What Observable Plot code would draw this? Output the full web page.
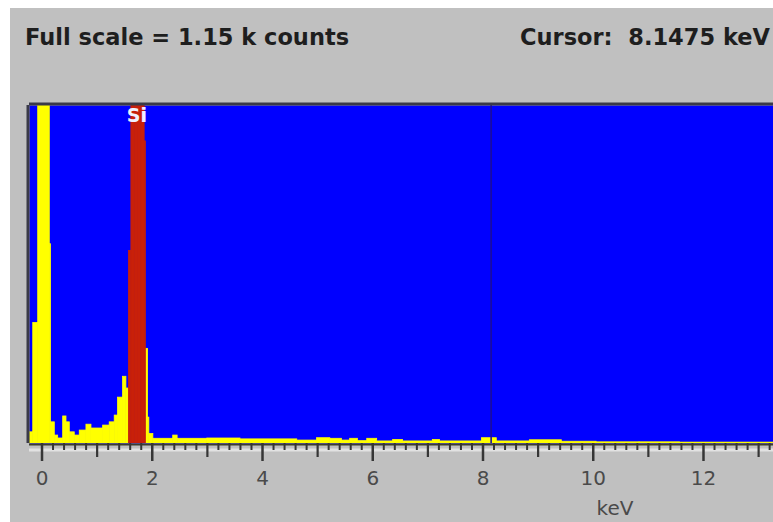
<!DOCTYPE html>
<html><head><meta charset="utf-8">
<script src="https://cdn.jsdelivr.net/npm/d3@7"></script>
<script src="https://cdn.jsdelivr.net/npm/@observablehq/plot@0.6"></script>
<style>
html,body{margin:0;padding:0;background:#fff;}
#panel{position:absolute;left:10px;top:8px;width:763px;height:514px;background:#c0c0c0;overflow:hidden;font-family:"DejaVu Sans",sans-serif;}
#header{position:relative;height:82px;}
.ttl{position:absolute;top:18px;font-weight:bold;font-size:22.5px;line-height:22.5px;color:#1e1e1e;white-space:pre;}
#chart{position:absolute;top:82px;left:0;}
#xlabel{position:absolute;top:490px;left:575px;width:60px;text-align:center;font-size:20px;line-height:20px;color:#4a4a4a;}
</style></head>
<body><div id="panel"><div id="header"><span class="ttl" id="scale" style="left:15px"></span><span class="ttl" id="cursor" style="left:510px"></span></div><div id="chart"></div><div id="xlabel"></div></div>
<script>
// ---- data ----
const fullScaleCounts = 1150;
const fullScaleText = "Full scale = 1.15 k counts";
const cursorText = "Cursor:  8.1475 keV";
const cursorKeV = [8.1475];
const axisUnit = "keV";
const xDomainKeV = [-0.227, 13.27];
const majorTickKeV = [0, 2, 4, 6, 8, 10, 12];
const midTickKeV = [1, 3, 5, 7, 9, 11, 13];
const minorTickKeV = d3.range(1, 67).filter(i => i % 5 !== 0).map(i => +(i * 0.2).toFixed(1));
// spectrum bins: edges (keV) and counts per bin
const binEdgesKeV = [-0.221, -0.159, -0.069, 0.141, 0.163, 0.232, 0.293, 0.384, 0.444, 0.504, 0.594, 0.685, 0.806, 0.897, 1.109, 1.228, 1.319, 1.380, 1.471, 1.531, 1.576, 1.621, 1.68, 1.74, 1.80, 1.862, 1.884, 1.924, 1.947, 2.02, 2.38, 2.46, 3.00, 3.60, 4.63, 4.99, 5.23, 5.44, 5.59, 5.73, 5.90, 6.08, 6.37, 6.55, 7.09, 7.22, 7.98, 8.25, 8.85, 9.43, 10.06, 10.84, 11.57, 13.27];
const binCounts = [38, 410, 3200, 678, 72, 27, 17, 92, 72, 38, 27, 44, 64, 51, 61, 72, 95, 156, 227, 187, 655, 1800, 5200, 7400, 2600, 1028, 322, 88, 32, 16, 27, 16, 17, 14, 10, 18, 16, 10, 16, 8, 16, 7, 12, 7, 12, 7, 18, 7, 11, 6, 4, 4, 3];
// element region of interest
const roiElement = ["Si"];
const roiFromKeV = [1.576];
const roiToKeV = [1.884];
const roiLineKeV = [1.72];

// ---- build tables ----
const bins = binCounts.map((c, i) => ({x1: binEdgesKeV[i], x2: binEdgesKeV[i + 1], count: c}));
const inRoi = d => roiFromKeV.some((f, k) => d.x1 >= f - 1e-9 && d.x2 <= roiToKeV[k] + 1e-9);
const roiLabels = roiElement.map((e, k) => ({name: e, keV: roiLineKeV[k]}));

document.getElementById("scale").textContent = fullScaleText;
document.getElementById("cursor").textContent = cursorText;
document.getElementById("xlabel").textContent = axisUnit;

const tickColor = "#363636";
const chart = Plot.plot({
  width: 763, height: 404,
  marginLeft: 19, marginRight: 0, marginTop: 15, marginBottom: 51,
  style: {background: "transparent", fontFamily: "DejaVu Sans, sans-serif", fontSize: "20px", overflow: "visible"},
  x: {domain: xDomainKeV, axis: null},
  y: {domain: [0, fullScaleCounts], axis: null},
  marks: [
    Plot.frame({fill: "#0000ff", stroke: "none"}),
    Plot.rectY(bins.filter(d => !inRoi(d)), {x1: "x1", x2: "x2", y1: 0, y2: "count", fill: "#ffff00", stroke: "#ffff00", strokeWidth: 0.8, inset: 0, clip: true}),
    Plot.rectY(bins.filter(inRoi), {x1: "x1", x2: "x2", y1: 0, y2: "count", fill: "#c8200a", stroke: "#c8200a", strokeWidth: 0.8, inset: 0, clip: true}),
    Plot.ruleX(cursorKeV, {stroke: "#1c0c9a", strokeWidth: 1.6}),
    Plot.text(roiLabels, {x: "keV", text: "name", frameAnchor: "top", lineAnchor: "top", dy: 3, fill: "#f0f0ff", fontWeight: "bold", fontSize: 19}),
    Plot.ruleX([xDomainKeV[0]], {stroke: "#3a3a48", strokeWidth: 3, dx: -1.5}),
    Plot.ruleY([fullScaleCounts], {stroke: "#3a3a48", strokeWidth: 3, dy: -1.5}),
    Plot.ruleY([0], {stroke: "#e2e2e2", strokeWidth: 3, dy: 6.5}),
    Plot.ruleY([0], {stroke: "#3d3d2e", strokeWidth: 2, dy: 1}),
    Plot.axisX({ticks: minorTickKeV, tickSize: 7, tickFormat: () => "", label: null, stroke: tickColor, strokeWidth: 2}),
    Plot.axisX({ticks: midTickKeV, tickSize: 14, tickFormat: () => "", label: null, stroke: tickColor, strokeWidth: 2.2}),
    Plot.axisX({ticks: majorTickKeV, tickSize: 18, tickPadding: 9, tickFormat: d => String(d), label: null, stroke: tickColor, strokeWidth: 2.5, fill: "#4a4a4a", fontSize: 20})
  ]
});
document.getElementById("chart").appendChild(chart);
</script>
</body></html>
